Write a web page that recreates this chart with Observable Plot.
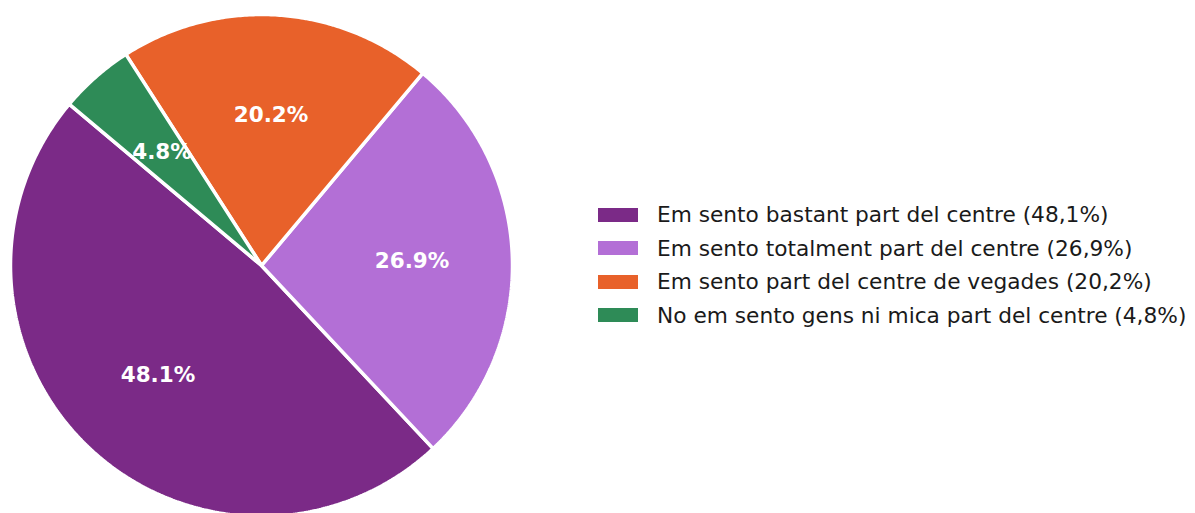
<!DOCTYPE html>
<html>
<head>
<meta charset="utf-8">
<script src="https://cdn.jsdelivr.net/npm/d3@7"></script>
<script src="https://cdn.jsdelivr.net/npm/@observablehq/plot@0.6"></script>
<style>
  html, body { margin: 0; padding: 0; background: #fff; }
  #wrap { position: relative; width: 1195px; height: 513px; overflow: hidden; font-family: "DejaVu Sans", sans-serif; }
  #chart { position: absolute; left: 0; top: 0; }
  #legend { position: absolute; left: 598px; top: 198px; }
  .row { display: flex; align-items: center; height: 33.5px; }
  .sw { width: 40px; height: 14px; margin-right: 19px; flex: none; }
  .lt { font-size: 21.7px; color: #1a1a1a; white-space: nowrap; }
</style>
</head>
<body>
<div id="wrap"><div id="chart"></div><div id="legend"></div></div>
<script>
const categories = [
  "Em sento bastant part del centre",
  "Em sento totalment part del centre",
  "Em sento part del centre de vegades",
  "No em sento gens ni mica part del centre"
];
const values = [48.1, 26.9, 20.2, 4.8];
const sliceLabels = ["48.1%", "26.9%", "20.2%", "4.8%"];
const legendLabels = [
  "Em sento bastant part del centre (48,1%)",
  "Em sento totalment part del centre (26,9%)",
  "Em sento part del centre de vegades (20,2%)",
  "No em sento gens ni mica part del centre (4,8%)"
];
const colors = ["#7b2a87", "#b36fd6", "#e8612a", "#2e8b57"];
const startAngle = 140; // degrees, counter-clockwise

const total = d3.sum(values);
const poly = [];
const labelPts = [];
let a0 = startAngle * Math.PI / 180;
values.forEach((v, i) => {
  const a1 = a0 + v / total * 2 * Math.PI;
  poly.push({cat: categories[i], x: 0, y: 0});
  const n = Math.max(8, Math.ceil((a1 - a0) / (Math.PI / 360)));
  for (let k = 0; k <= n; k++) {
    const t = a0 + (a1 - a0) * k / n;
    poly.push({cat: categories[i], x: Math.cos(t), y: Math.sin(t)});
  }
  const am = (a0 + a1) / 2;
  labelPts.push({label: sliceLabels[i], x: 0.6 * Math.cos(am), y: 0.6 * Math.sin(am)});
  a0 = a1;
});

const R = 251;
const chart = Plot.plot({
  width: 525,
  height: 513,
  margin: 0,
  x: {domain: [-261 / R, 264 / R], axis: null},
  y: {domain: [-248 / R, 265 / R], axis: null},
  color: {domain: categories, range: colors},
  marks: [
    Plot.line(poly, {x: "x", y: "y", z: "cat", fill: "cat", stroke: "white", strokeWidth: 3.5, curve: "linear-closed", strokeLinejoin: "miter"}),
    Plot.text(labelPts, {x: "x", y: "y", text: "label", fill: "white", fontSize: 21.5, fontWeight: "bold", fontFamily: "DejaVu Sans"})
  ]
});
document.getElementById("chart").appendChild(chart);

const legend = document.getElementById("legend");
legendLabels.forEach((t, i) => {
  const row = document.createElement("div");
  row.className = "row";
  const sw = document.createElement("div");
  sw.className = "sw";
  sw.style.background = colors[i];
  const lt = document.createElement("div");
  lt.className = "lt";
  lt.textContent = t;
  row.appendChild(sw);
  row.appendChild(lt);
  legend.appendChild(row);
});
</script>
</body>
</html>
